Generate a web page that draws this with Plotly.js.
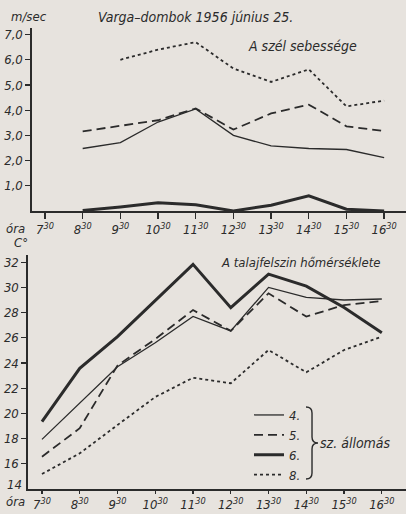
<!DOCTYPE html>
<html>
<head>
<meta charset="utf-8">
<script src="https://cdn.plot.ly/plotly-3.0.1.min.js"></script>
<style>
html,body{margin:0;padding:0;background:#e7e3de;}
#chart{width:406px;height:514px;}
</style>
</head>
<body>
<div id="chart"></div>
<script>
// ---- data ----
const hours = [7.5, 8.5, 9.5, 10.5, 11.5, 12.5, 13.5, 14.5, 15.5, 16.5];
const hourLabels = ['7<sup>30</sup>','8<sup>30</sup>','9<sup>30</sup>','10<sup>30</sup>','11<sup>30</sup>',
                    '12<sup>30</sup>','13<sup>30</sup>','14<sup>30</sup>','15<sup>30</sup>','16<sup>30</sup>'];
const stations = ['4.', '5.', '6.', '8.'];

// wind speed (m/sec)
const wind4 = [null, 2.48, 2.71, 3.53, 4.05, 3.00, 2.58, 2.48, 2.44, 2.12];
const wind5 = [null, 3.16, 3.37, 3.60, 4.07, 3.23, 3.87, 4.22, 3.36, 3.17];
const wind6 = [null, 0.02, 0.16, 0.33, 0.25, 0.00, 0.23, 0.60, 0.07, 0.00];
const wind8 = [null, null, 6.00, 6.40, 6.70, 5.65, 5.12, 5.62, 4.15, 4.38];
const windTicks = [1, 2, 3, 4, 5, 6, 7];
const windTickText = ['1,0', '2,0', '3,0', '4,0', '5,0', '6,0', '7,0'];

// soil surface temperature (C°)
const temp4 = [17.94, 20.80, 23.70, 25.60, 27.70, 26.54, 30.00, 29.20, 29.00, 29.08];
const temp5 = [16.56, 18.82, 23.80, 25.90, 28.20, 26.55, 29.53, 27.68, 28.60, 28.92];
const temp6 = [19.34, 23.58, 26.10, 28.95, 31.83, 28.39, 31.05, 30.10, 28.40, 26.40];
const temp8 = [15.19, 16.83, 19.08, 21.30, 22.83, 22.39, 25.03, 23.26, 25.03, 26.09];
const tempTicks = [16, 18, 20, 22, 24, 26, 28, 30, 32];
const tempBase = 14;

// ---- styling ----
const W = 406, H = 514;
const ink = '#2b2b2b';
const fam = '"DejaVu Sans Condensed", "Liberation Sans Narrow", "DejaVu Sans", sans-serif';
const fnt = (s) => ({family: fam, size: s, color: ink, style: 'italic'});
const px = (x) => x / W;
const py = (y) => 1 - y / H;

const styles = [
  {width: 1.3, dash: 'solid'},
  {width: 1.8, dash: '9px,5px'},
  {width: 3.0, dash: 'solid'},
  {width: 1.8, dash: 'dot'}
];
const windSeries = [wind4, wind5, wind6, wind8];
const tempSeries = [temp4, temp5, temp6, temp8];

const traces = [];
windSeries.forEach((ys, i) => traces.push({
  x: hours, y: ys, xaxis: 'x', yaxis: 'y', mode: 'lines', name: stations[i],
  line: Object.assign({color: ink}, styles[i]), showlegend: false, connectgaps: false,
  hoverinfo: 'x+y'
}));
tempSeries.forEach((ys, i) => traces.push({
  x: hours, y: ys, xaxis: 'x2', yaxis: 'y2', mode: 'lines', name: stations[i],
  line: Object.assign({color: ink}, styles[i]), showlegend: true,
  hoverinfo: 'x+y'
}));

const axisBase = {
  showline: true, linecolor: ink, linewidth: 1.6, showgrid: false, zeroline: false,
  ticks: 'outside', ticklen: 5, tickwidth: 1.3, tickcolor: ink, tickfont: fnt(13),
  fixedrange: true
};

// brace path in pixel coords -> paper
function bracePath() {
  const pts = [
    ['M', 306, 407], ['Q', 312, 407, 312, 413], ['L', 312, 437], ['Q', 312, 443, 318, 443],
    ['Q', 312, 443, 312, 449], ['L', 312, 473], ['Q', 312, 479, 306, 479]
  ];
  return pts.map(p => {
    let s = p[0];
    for (let k = 1; k < p.length; k += 2) s += ' ' + px(p[k]).toFixed(4) + ',' + py(p[k + 1]).toFixed(4);
    return s;
  }).join(' ');
}

const layout = {
  width: W, height: H,
  margin: {l: 0, r: 0, t: 0, b: 0},
  paper_bgcolor: '#e7e3de', plot_bgcolor: '#e7e3de',
  font: fnt(13),
  showlegend: true,
  legend: {
    x: px(249), y: py(400), xanchor: 'left', yanchor: 'top',
    bgcolor: 'rgba(0,0,0,0)', font: fnt(13), tracegroupgap: 0, itemwidth: 30
  },
  xaxis: Object.assign({}, axisBase, {
    domain: [px(32), 1], range: [7.155, 17.08], anchor: 'y',
    tickvals: hours, ticktext: hourLabels, ticklen: 6
  }),
  yaxis: Object.assign({}, axisBase, {
    domain: [py(211), py(28)], range: [0, 7.26], anchor: 'x',
    tickvals: windTicks, ticktext: windTickText
  }),
  xaxis2: Object.assign({}, axisBase, {
    domain: [px(28), 1], range: [7.13, 17.14], anchor: 'y2',
    tickvals: hours, ticktext: hourLabels, ticklen: 3
  }),
  yaxis2: Object.assign({}, axisBase, {
    domain: [py(489), py(255)], range: [tempBase, 32.57], anchor: 'x2',
    tickvals: tempTicks, ticktext: tempTicks.map(String)
  }),
  shapes: [
    {type: 'path', xref: 'paper', yref: 'paper', path: bracePath(), line: {color: ink, width: 1.4}}
  ],
  annotations: [
    {text: 'm/sec', x: px(9), y: py(16), xref: 'paper', yref: 'paper', xanchor: 'left', yanchor: 'middle', showarrow: false, font: fnt(13)},
    {text: 'Varga–dombok 1956 június 25.', x: px(96), y: py(17), xref: 'paper', yref: 'paper', xanchor: 'left', yanchor: 'middle', showarrow: false, font: fnt(14)},
    {text: 'A szél sebessége', x: px(246), y: py(46), xref: 'paper', yref: 'paper', xanchor: 'left', yanchor: 'middle', showarrow: false, font: fnt(14)},
    {text: 'óra', x: px(4), y: py(228), xref: 'paper', yref: 'paper', xanchor: 'left', yanchor: 'middle', showarrow: false, font: fnt(13)},
    {text: 'C°', x: px(12), y: py(242), xref: 'paper', yref: 'paper', xanchor: 'left', yanchor: 'middle', showarrow: false, font: fnt(13)},
    {text: 'A talajfelszin hőmérséklete', x: px(219), y: py(262), xref: 'paper', yref: 'paper', xanchor: 'left', yanchor: 'middle', showarrow: false, font: fnt(13)},
    {text: String(tempBase), x: 0, xref: 'x2 domain', xshift: -4, y: tempBase, yref: 'y2', yshift: 5, xanchor: 'right', yanchor: 'middle', showarrow: false, font: fnt(13)},
    {text: 'óra', x: px(4), y: py(501), xref: 'paper', yref: 'paper', xanchor: 'left', yanchor: 'middle', showarrow: false, font: fnt(13)},
    {text: 'sz. állomás', x: px(318), y: py(443), xref: 'paper', yref: 'paper', xanchor: 'left', yanchor: 'middle', showarrow: false, font: fnt(14)}
  ]
};

Plotly.newPlot('chart', traces, layout, {displayModeBar: false, staticPlot: true});
</script>
</body>
</html>
